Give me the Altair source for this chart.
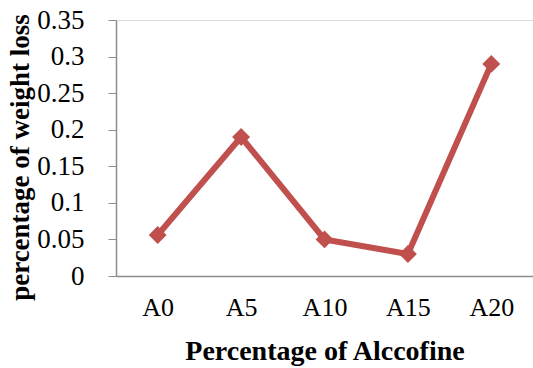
import altair as alt
import pandas as pd

categories = ["A0", "A5", "A10", "A15", "A20"]
weight_loss = [0.056, 0.19, 0.05, 0.03, 0.29]
y_ticks = [0, 0.05, 0.1, 0.15, 0.2, 0.25, 0.3, 0.35]

df = pd.DataFrame({"mix": categories, "loss": weight_loss})

font = "Liberation Serif"
red = "#C0504D"

x = alt.X(
    "mix:N",
    sort=categories,
    scale=alt.Scale(paddingInner=0, paddingOuter=0),
    axis=alt.Axis(
        title="Percentage of Alccofine",
        labelAngle=0,
        ticks=False,
        labelPadding=18,
        labelFontSize=26,
        labelFont=font,
        labelColor="black",
        titleFont=font,
        titleFontSize=28,
        titleFontWeight="bold",
        titleColor="black",
        titlePadding=17,
        domainColor="#8c8c8c",
        domainWidth=1.5,
    ),
)
y = alt.Y(
    "loss:Q",
    scale=alt.Scale(domain=[0, 0.35], nice=False),
    axis=alt.Axis(
        title="percentage of weight loss",
        values=y_ticks,
        format="~g",
        grid=False,
        tickSize=8,
        tickColor="#8c8c8c",
        domainColor="#8c8c8c",
        domainWidth=1.5,
        labelPadding=24,
        labelFontSize=27,
        labelFont=font,
        labelColor="black",
        titleFont=font,
        titleFontSize=27,
        titleFontWeight="bold",
        titleColor="black",
        titleAngle=270,
        titleAlign="center",
        titleBaseline="middle",
        titleX=-96,
        titleY=137,
    ),
)

line = alt.Chart(df).mark_line(color=red, strokeWidth=6).encode(x=x, y=y)
points = alt.Chart(df).mark_point(
    shape="diamond", filled=True, color=red, size=320, opacity=1
).encode(x=x, y=y)

chart = (
    alt.layer(line, points)
    .properties(
        width=417,
        height=256,
        autosize=alt.AutoSizeParams(type="none"),
        padding={"left": 116, "top": 20, "right": 0, "bottom": 92},
    )
    .configure_view(stroke=None)
    .configure(background="white")
)

chart.save("out.html", embed_options={"renderer": "svg", "actions": False})
